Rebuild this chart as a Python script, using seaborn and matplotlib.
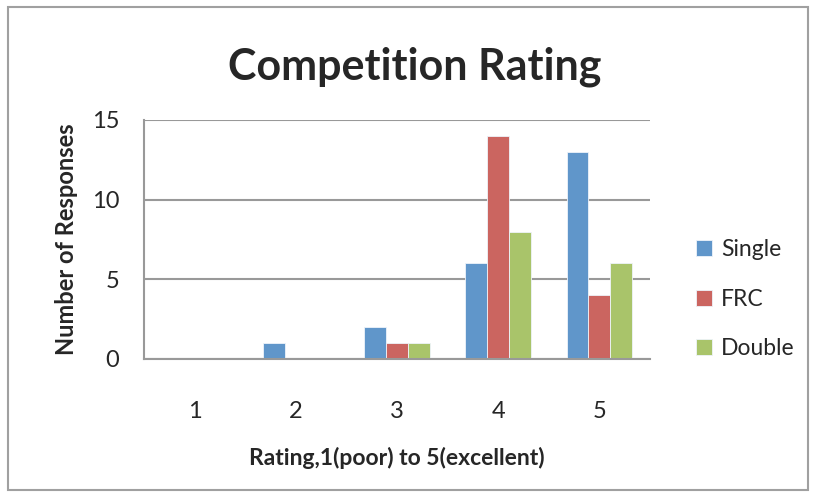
import matplotlib
matplotlib.use("Agg")
import matplotlib.pyplot as plt
import seaborn as sns
import pandas as pd
from matplotlib.patches import Rectangle

# Data
ratings = ["1", "2", "3", "4", "5"]
series = ["Single", "FRC", "Double"]
single = [0, 1, 2, 6, 13]
frc = [0, 0, 1, 14, 4]
double = [0, 0, 1, 8, 6]
colors = ["#6096CA", "#CB6560", "#A9C46A"]

df = pd.DataFrame({"Rating": ratings * 3,
                   "Series": sum([[s] * 5 for s in series], []),
                   "Responses": single + frc + double})

sns.set_style("white")
plt.rcParams["font.family"] = ["Lato", "DejaVu Sans"]

fig = plt.figure(figsize=(8.14, 4.97), dpi=100)
ax = fig.add_axes([0.177, 0.2777, 0.6215, 0.4809])

sns.barplot(data=df, x="Rating", y="Responses", hue="Series", palette=colors,
            saturation=1, width=0.65, edgecolor="#EEF3FA", linewidth=0.6, ax=ax, legend=True)

ax.set_ylim(0, 15)
ax.set_xlim(-0.5, 4.5)
ax.set_yticks([0, 5, 10, 15])
ax.yaxis.grid(True, color="#999999", linewidth=1.5)
ax.set_axisbelow(True)
for s in ["top", "right"]:
    ax.spines[s].set_visible(False)
for s in ["left", "bottom"]:
    ax.spines[s].set_color("#999999")
    ax.spines[s].set_linewidth(1.5)

# category boundaries as major ticks, labels as minor ticks
ax.set_xticks([-0.5, 0.5, 1.5, 2.5, 3.5, 4.5])
ax.set_xticklabels([])
ax.set_xticks(range(5), minor=True)
ax.set_xticklabels(ratings, minor=True, fontsize=17)
ax.tick_params(axis="x", which="major", direction="out", length=7, width=1.5, color="#999999")
ax.tick_params(axis="x", which="minor", length=0, pad=30)
ax.tick_params(axis="y", direction="out", length=7, width=1.5, color="#999999", labelsize=17, pad=11)

ax.set_xlabel("Rating,1(poor) to 5(excellent)", fontsize=16.5, fontweight="bold", labelpad=18)
ax.set_ylabel("Number of Responses", fontsize=17, fontweight="bold", labelpad=10)
fig.text(0.51, 0.865, "Competition Rating", fontsize=31, fontweight="bold", ha="center", va="center")

ax.legend(loc="center left", bbox_to_anchor=(1.05, 0.25), frameon=False, fontsize=16.5,
          handlelength=0.7, handleheight=0.7, labelspacing=1.25, handletextpad=0.4)

fig.patches.append(Rectangle((8 / 814, 7 / 497), 800 / 814, 483 / 497, transform=fig.transFigure,
                             fill=False, edgecolor="#A0A0A0", linewidth=1.5))

fig.savefig("out.png", dpi=100)
